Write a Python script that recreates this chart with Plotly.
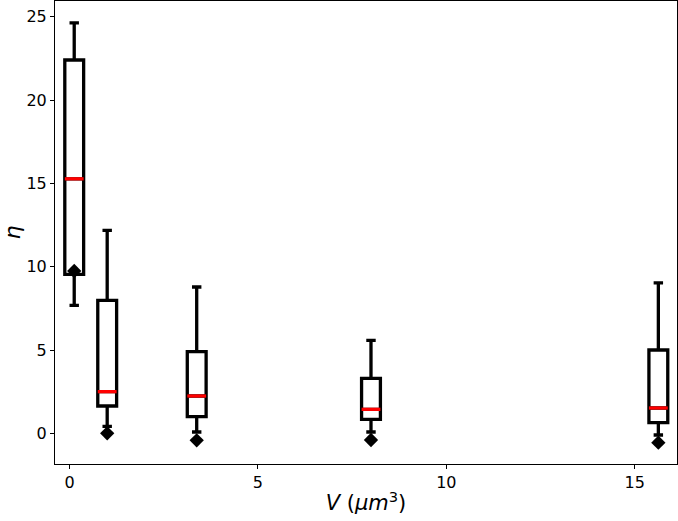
import plotly.graph_objects as go

# Data
volumes = [0.125, 1.0, 3.375, 8.0, 15.625]
lower_whisker = [7.68, 0.42, 0.08, 0.08, -0.10]
q1_vals = [9.54, 1.64, 1.00, 0.84, 0.64]
medians = [15.27, 2.50, 2.24, 1.44, 1.52]
q3_vals = [22.40, 7.98, 4.90, 3.30, 5.00]
upper_whisker = [24.63, 12.18, 8.78, 5.58, 9.03]
flier_x = [0.125, 1.0, 3.375, 8.0, 15.625]
flier_y = [9.74, 0.0, -0.42, -0.40, -0.56]

BOX_W = 0.5

fig = go.Figure()
fig.add_trace(go.Box(
    x=volumes,
    q1=q1_vals, median=medians, q3=q3_vals,
    lowerfence=lower_whisker, upperfence=upper_whisker,
    width=BOX_W, whiskerwidth=0.5,
    line=dict(color="black", width=3.3),
    fillcolor="rgba(255,255,255,0)",
    boxpoints=False, showlegend=False, hoverinfo="skip",
))

# red median lines
mx, my = [], []
for v, m in zip(volumes, medians):
    mx += [v - BOX_W / 2, v + BOX_W / 2, None]
    my += [m, m, None]
fig.add_trace(go.Scatter(x=mx, y=my, mode="lines",
                         line=dict(color="red", width=3.3),
                         showlegend=False, hoverinfo="skip"))

# fliers
fig.add_trace(go.Scatter(x=flier_x, y=flier_y, mode="markers",
                         marker=dict(symbol="diamond", size=11, color="black"),
                         showlegend=False, hoverinfo="skip"))

axis_common = dict(
    showline=True, linecolor="black", linewidth=1, mirror=True,
    ticks="outside", ticklen=4, tickcolor="black", tickwidth=1,
    showgrid=False, zeroline=False,
    tickfont=dict(family="DejaVu Sans", size=16, color="black"),
)

fig.update_layout(
    width=678, height=521,
    margin=dict(l=55, r=1, t=1, b=57, autoexpand=False),
    paper_bgcolor="white", plot_bgcolor="white",
    xaxis=dict(range=[-0.385, 16.12], tickvals=[0, 5, 10, 15],
               title=dict(text="<i>V</i> (<i>μm</i><sup>3</sup>)",
                          font=dict(family="DejaVu Sans", size=21, color="black"),
                          standoff=4),
               **axis_common),
    yaxis=dict(range=[-1.84, 25.94], tickvals=[0, 5, 10, 15, 20, 25],
               title=dict(text="<i>η</i>",
                          font=dict(family="DejaVu Sans", size=22, color="black"),
                          standoff=13),
               **axis_common),
)

fig.write_html("out.html",
               config={"displayModeBar": False},
               post_script="document.body.style.margin='0px';document.body.style.padding='0px';")
